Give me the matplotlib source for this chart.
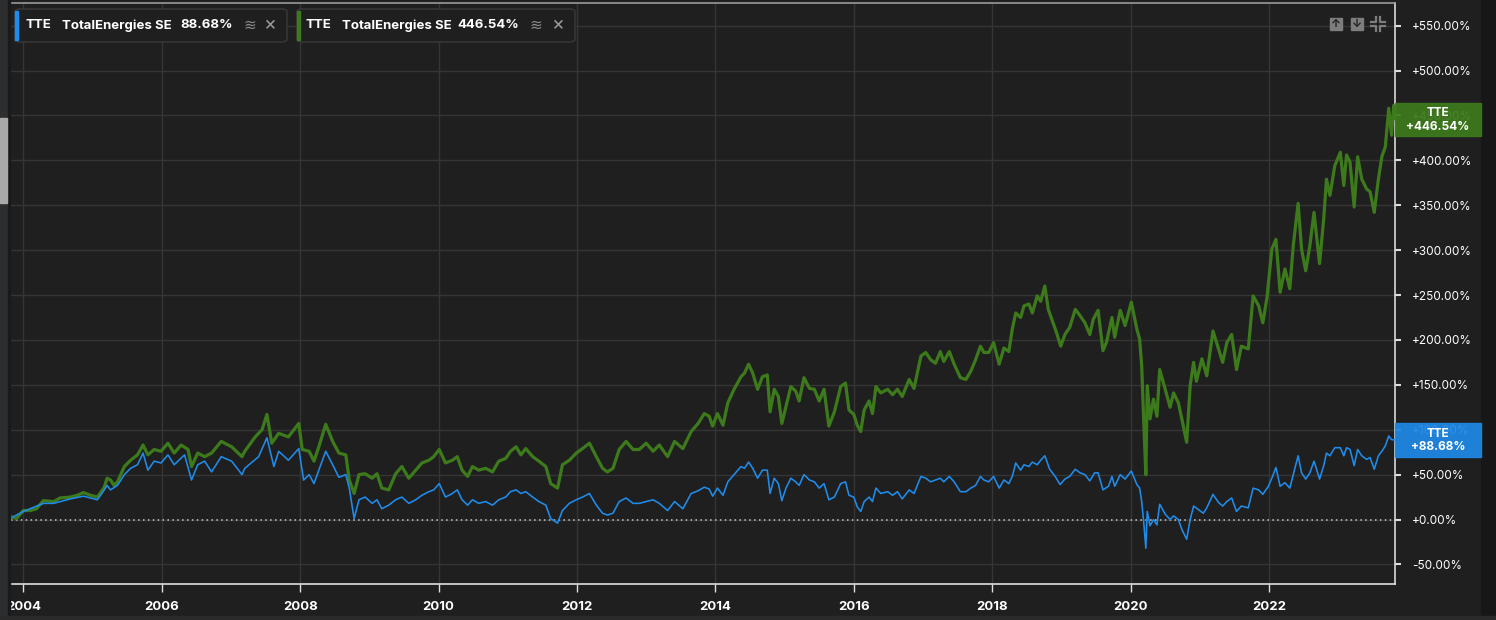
import numpy as np
import matplotlib.pyplot as plt
from matplotlib.patches import Rectangle, FancyBboxPatch
from matplotlib.lines import Line2D

# total return (green) - decimal year / percent
green_t = [2003.83, 2003.90, 2004.00, 2004.10, 2004.19, 2004.29, 2004.44, 2004.53, 2004.68, 2004.78,
           2004.87, 2004.97, 2005.07, 2005.17, 2005.21, 2005.26, 2005.31, 2005.36, 2005.46, 2005.55,
           2005.65, 2005.73, 2005.80, 2005.89, 2005.99, 2006.09, 2006.18, 2006.28, 2006.38, 2006.43,
           2006.52, 2006.62, 2006.72, 2006.86, 2007.01, 2007.16, 2007.20, 2007.35, 2007.45, 2007.52,
           2007.59, 2007.69, 2007.83, 2007.98, 2008.03, 2008.13, 2008.20, 2008.27, 2008.37, 2008.47,
           2008.56, 2008.66, 2008.71, 2008.78, 2008.85, 2008.94, 2009.04, 2009.11, 2009.18, 2009.28,
           2009.38, 2009.47, 2009.57, 2009.67, 2009.76, 2009.86, 2009.93, 2010.01, 2010.10, 2010.20,
           2010.27, 2010.34, 2010.42, 2010.49, 2010.58, 2010.68, 2010.78, 2010.87, 2010.97, 2011.04,
           2011.12, 2011.19, 2011.26, 2011.36, 2011.45, 2011.55, 2011.62, 2011.72, 2011.79, 2011.89,
           2011.99, 2012.08, 2012.18, 2012.28, 2012.37, 2012.44, 2012.52, 2012.61, 2012.71, 2012.81,
           2012.90, 2013.00, 2013.10, 2013.19, 2013.31, 2013.41, 2013.53, 2013.65, 2013.75, 2013.84,
           2013.91, 2013.96, 2014.03, 2014.11, 2014.18, 2014.27, 2014.37, 2014.42, 2014.48, 2014.54,
           2014.61, 2014.68, 2014.75, 2014.79, 2014.85, 2014.91, 2014.96, 2015.02, 2015.09, 2015.16,
           2015.21, 2015.28, 2015.36, 2015.43, 2015.50, 2015.57, 2015.64, 2015.72, 2015.81, 2015.88,
           2015.93, 2016.00, 2016.05, 2016.10, 2016.15, 2016.22, 2016.27, 2016.32, 2016.39, 2016.49,
           2016.56, 2016.63, 2016.70, 2016.80, 2016.87, 2016.97, 2017.04, 2017.11, 2017.18, 2017.25,
           2017.30, 2017.38, 2017.45, 2017.54, 2017.62, 2017.69, 2017.76, 2017.83, 2017.88, 2017.95,
           2018.02, 2018.10, 2018.17, 2018.24, 2018.29, 2018.34, 2018.41, 2018.46, 2018.53, 2018.58,
           2018.65, 2018.70, 2018.76, 2018.81, 2018.88, 2018.93, 2018.99, 2019.05, 2019.12, 2019.20,
           2019.27, 2019.34, 2019.41, 2019.46, 2019.53, 2019.60, 2019.65, 2019.73, 2019.77, 2019.85,
           2019.92, 2020.01, 2020.09, 2020.13, 2020.16, 2020.19, 2020.22, 2020.24, 2020.28, 2020.33,
           2020.38, 2020.42, 2020.50, 2020.57, 2020.62, 2020.69, 2020.74, 2020.81, 2020.86, 2020.91,
           2020.95, 2021.03, 2021.10, 2021.19, 2021.27, 2021.33, 2021.39, 2021.46, 2021.53, 2021.60,
           2021.70, 2021.77, 2021.85, 2021.91, 2021.97, 2022.04, 2022.10, 2022.16, 2022.23, 2022.30,
           2022.35, 2022.42, 2022.47, 2022.53, 2022.59, 2022.65, 2022.73, 2022.79, 2022.83, 2022.88,
           2022.95, 2023.03, 2023.08, 2023.12, 2023.17, 2023.23, 2023.28, 2023.34, 2023.41, 2023.46,
           2023.52, 2023.58, 2023.63, 2023.68, 2023.73, 2023.77, 2023.80, 2023.81]
green_v = [3, 1, 10, 10, 12, 21, 20, 24, 25, 27,
           30, 27, 25, 36, 46, 44, 38, 42, 59, 66,
           72, 83, 72, 78, 76, 85, 74, 83, 78, 59,
           74, 70, 74, 87, 81, 70, 76, 92, 100, 117,
           85, 96, 92, 107, 78, 76, 65, 81, 106, 87,
           74, 72, 44, 29, 50, 51, 46, 51, 35, 33,
           51, 59, 46, 55, 63, 66, 70, 78, 63, 66,
           70, 55, 48, 59, 55, 57, 53, 65, 68, 76,
           81, 72, 79, 70, 65, 59, 40, 35, 61, 66,
           74, 79, 85, 70, 57, 53, 57, 78, 87, 78,
           78, 85, 76, 83, 70, 87, 79, 98, 107, 118,
           115, 104, 118, 105, 130, 145, 159, 163, 173, 163,
           145, 159, 161, 120, 145, 137, 107, 126, 148, 143,
           132, 158, 146, 145, 132, 145, 104, 120, 148, 152,
           122, 117, 105, 98, 122, 132, 118, 148, 141, 145,
           139, 145, 137, 156, 146, 182, 186, 178, 174, 187,
           176, 187, 173, 158, 156, 165, 178, 193, 186, 186,
           197, 173, 191, 187, 212, 230, 225, 238, 240, 230,
           249, 243, 260, 234, 219, 208, 193, 206, 214, 234,
           227, 219, 206, 223, 233, 188, 197, 225, 203, 233,
           216, 242, 212, 201, 171, 108, 50, 149, 112, 134,
           115, 167, 145, 125, 141, 130, 112, 86, 149, 175,
           154, 179, 160, 210, 190, 175, 197, 206, 167, 193,
           190, 249, 238, 219, 247, 301, 312, 253, 279, 257,
           305, 352, 301, 277, 305, 342, 285, 335, 379, 361,
           394, 409, 372, 406, 398, 348, 404, 379, 368, 365,
           342, 379, 404, 415, 458, 428, 461, 446.54]

# price return (blue)
blue_t = [2003.83, 2004.00, 2004.29, 2004.44, 2004.68, 2004.87, 2005.07, 2005.17, 2005.21, 2005.26,
          2005.36, 2005.46, 2005.55, 2005.65, 2005.73, 2005.80, 2005.89, 2005.99, 2006.09, 2006.18,
          2006.33, 2006.43, 2006.52, 2006.62, 2006.72, 2006.86, 2007.01, 2007.16, 2007.20, 2007.40,
          2007.52, 2007.62, 2007.69, 2007.83, 2007.98, 2008.05, 2008.13, 2008.20, 2008.27, 2008.37,
          2008.47, 2008.56, 2008.66, 2008.71, 2008.78, 2008.85, 2008.94, 2009.04, 2009.11, 2009.18,
          2009.28, 2009.38, 2009.47, 2009.57, 2009.67, 2009.76, 2009.86, 2009.93, 2010.01, 2010.10,
          2010.20, 2010.27, 2010.34, 2010.42, 2010.49, 2010.58, 2010.68, 2010.78, 2010.87, 2010.97,
          2011.04, 2011.12, 2011.19, 2011.26, 2011.36, 2011.45, 2011.55, 2011.62, 2011.72, 2011.79,
          2011.89, 2011.99, 2012.08, 2012.18, 2012.28, 2012.37, 2012.44, 2012.52, 2012.61, 2012.71,
          2012.81, 2012.90, 2013.00, 2013.10, 2013.19, 2013.31, 2013.41, 2013.53, 2013.65, 2013.75,
          2013.84, 2013.91, 2013.96, 2014.03, 2014.11, 2014.18, 2014.27, 2014.37, 2014.42, 2014.48,
          2014.54, 2014.61, 2014.68, 2014.75, 2014.79, 2014.85, 2014.91, 2014.96, 2015.02, 2015.09,
          2015.16, 2015.21, 2015.28, 2015.36, 2015.43, 2015.50, 2015.57, 2015.64, 2015.72, 2015.81,
          2015.88, 2015.93, 2016.00, 2016.05, 2016.10, 2016.15, 2016.22, 2016.27, 2016.32, 2016.39,
          2016.49, 2016.56, 2016.63, 2016.70, 2016.80, 2016.87, 2016.97, 2017.04, 2017.11, 2017.18,
          2017.25, 2017.30, 2017.38, 2017.45, 2017.54, 2017.62, 2017.69, 2017.76, 2017.83, 2017.88,
          2017.95, 2018.02, 2018.10, 2018.17, 2018.24, 2018.29, 2018.34, 2018.41, 2018.46, 2018.53,
          2018.58, 2018.65, 2018.70, 2018.76, 2018.83, 2018.91, 2018.98, 2019.05, 2019.12, 2019.20,
          2019.27, 2019.34, 2019.41, 2019.48, 2019.53, 2019.60, 2019.68, 2019.73, 2019.77, 2019.85,
          2019.92, 2020.01, 2020.09, 2020.13, 2020.16, 2020.19, 2020.22, 2020.24, 2020.28, 2020.33,
          2020.38, 2020.42, 2020.50, 2020.57, 2020.62, 2020.69, 2020.74, 2020.81, 2020.86, 2020.91,
          2020.98, 2021.05, 2021.10, 2021.19, 2021.27, 2021.33, 2021.39, 2021.46, 2021.53, 2021.60,
          2021.70, 2021.77, 2021.85, 2021.91, 2021.99, 2022.04, 2022.10, 2022.16, 2022.23, 2022.30,
          2022.35, 2022.42, 2022.47, 2022.53, 2022.59, 2022.65, 2022.73, 2022.79, 2022.83, 2022.88,
          2022.95, 2023.03, 2023.08, 2023.12, 2023.17, 2023.23, 2023.28, 2023.34, 2023.41, 2023.46,
          2023.52, 2023.58, 2023.63, 2023.68, 2023.73, 2023.77, 2023.81]
blue_v = [2, 9, 18, 18, 23, 26, 22, 33, 38, 33,
          38, 50, 57, 61, 74, 55, 65, 63, 72, 61,
          72, 44, 61, 65, 53, 70, 65, 50, 57, 70,
          91, 59, 76, 66, 79, 44, 50, 40, 55, 76,
          61, 47, 50, 35, 1, 22, 25, 18, 22, 12,
          16, 22, 25, 18, 22, 27, 31, 33, 40, 25,
          29, 33, 22, 16, 22, 18, 20, 16, 22, 25,
          31, 33, 29, 31, 25, 20, 16, 1, -4, 10,
          18, 22, 25, 29, 16, 7, 5, 7, 20, 24,
          18, 18, 20, 22, 18, 10, 20, 12, 29, 32,
          36, 34, 26, 35, 27, 42, 50, 59, 57, 64,
          57, 46, 55, 55, 29, 46, 40, 21, 35, 46,
          42, 38, 50, 44, 42, 35, 40, 22, 25, 40,
          42, 27, 25, 14, 9, 20, 25, 20, 35, 29,
          31, 27, 31, 23, 33, 29, 48, 46, 42, 44,
          46, 42, 48, 42, 31, 31, 35, 38, 48, 44,
          42, 48, 35, 44, 40, 48, 63, 55, 61, 59,
          64, 61, 66, 71, 56, 48, 39, 45, 48, 56,
          52, 50, 43, 52, 52, 33, 37, 48, 37, 50,
          45, 54, 39, 35, 20, -4, -32, 9, -7, 0,
          -6, 17, 6, 0, 4, 0, -11, -22, 0, 15,
          11, 7, 13, 28, 19, 15, 20, 24, 9, 15,
          13, 35, 33, 28, 37, 46, 58, 37, 41, 35,
          50, 71, 52, 45, 52, 65, 45, 60, 74, 71,
          80, 80, 71, 80, 78, 60, 78, 71, 67, 69,
          56, 71, 76, 82, 93, 89, 88.68]

year_ticks = [2004, 2006, 2008, 2010, 2012, 2014, 2016, 2018, 2020, 2022]
pct_ticks = [-50, 0, 50, 100, 150, 200, 250, 300, 350, 400, 450, 500, 550]

name = "TotalEnergies SE"
ticker = "TTE"
blue_last = "88.68%"
green_last = "446.54%"

BG = '#1f1f1f'
GRID = '#353535'
BLUE = '#1f8cec'
GREEN = '#3d7a1c'

plt.rcParams['font.family'] = ['Inter', 'DejaVu Sans']

W, H = 1496, 620
fig = plt.figure(figsize=(W / 100, H / 100), dpi=100)
fig.patch.set_facecolor(BG)

def fx(px):
    return px / W

def fy(py):
    return 1 - py / H

ax = fig.add_axes([fx(11), fy(584), fx(1395) - fx(11), fy(3) - fy(584)])
ax.set_facecolor(BG)

ax.plot(green_t, green_v, color=GREEN, lw=2.3, zorder=3, solid_joinstyle='round')
ax.plot(blue_t, blue_v, color=BLUE, lw=1.15, zorder=4, solid_joinstyle='round')
ax.axhline(0, color='#c8c8c8', lw=1.1, ls=(0, (1, 2.2)), zorder=2)

ax.set_xlim(2003.822, 2023.82)
ax.set_ylim(-71.8, 575.2)

ax.set_xticks(year_ticks)
ax.set_xticklabels([str(y) for y in year_ticks], fontsize=9.5, fontweight='bold', color='white')
ax.set_yticks(pct_ticks)
ax.set_yticklabels([f"{v:+.2f}%" for v in pct_ticks], fontsize=8.5, color='white')
ax.yaxis.tick_right()
ax.tick_params(axis='x', length=6, width=1, color='#dddddd', pad=6)
ax.tick_params(axis='y', length=4, width=1.5, color='#dddddd', pad=8)
ax.grid(True, color=GRID, lw=1)
ax.set_axisbelow(True)

ax.spines['left'].set_visible(False)
ax.spines['top'].set_color('#9a9a9a')
ax.spines['right'].set_color('#d8d8d8')
ax.spines['bottom'].set_color('#e0e0e0')
for s in ['top', 'right', 'bottom']:
    ax.spines[s].set_linewidth(1.2)

# left strip with scrollbar, right dark strip
fig.add_artist(Rectangle((0, 0), fx(8), 1, transform=fig.transFigure, color='#2c2e30', zorder=5))
fig.add_artist(Rectangle((fx(8), 0), fx(2.5), 1, transform=fig.transFigure, color='#1a1a1a', zorder=5))
fig.add_artist(Rectangle((0, fy(203)), fx(7), fy(118) - fy(203), transform=fig.transFigure,
                         color='#a9a9a9', zorder=6))
fig.add_artist(Rectangle((fx(1481), 0), 1 - fx(1481), 1, transform=fig.transFigure,
                         color='#171717', zorder=5))
fig.add_artist(Rectangle((0, 0), 1, fy(616), transform=fig.transFigure, color='#2a2a2a', zorder=5))

# legend chips
def chip(x0, x1, color, value, xs):
    fig.add_artist(FancyBboxPatch((fx(x0), fy(42)), fx(x1 - x0), fy(9) - fy(42),
                                  boxstyle="round,pad=0,rounding_size=0.004",
                                  transform=fig.transFigure, fc=BG, ec='#3a3a3a', lw=1, zorder=7))
    fig.add_artist(Rectangle((fx(x0), fy(40)), fx(3), fy(11) - fy(40), transform=fig.transFigure,
                             color=color, zorder=8))
    yy = fy(25.5)
    fig.text(fx(xs[0]), yy, ticker, fontsize=9.5, fontweight='bold', color='white', va='center', zorder=9)
    fig.text(fx(xs[1]), yy, name, fontsize=9.5, fontweight='bold', color='white', va='center', zorder=9)
    fig.text(fx(xs[2]), yy, value, fontsize=9.5, fontweight='bold', color='white', va='center', zorder=9)
    fig.text(fx(xs[3]), yy, "≋", fontsize=11, color='#8a8a8a', va='center', ha='center', zorder=9)
    fig.text(fx(xs[4]), yy, "×", fontsize=14, color='#9a9a9a', va='center', ha='center', zorder=9)

chip(15, 287, BLUE, blue_last, [25, 62, 180, 250, 270])
chip(297, 575, GREEN, green_last, [305, 342, 457, 536, 558])

# end-value labels on the right axis
for (top, bot, col, txt) in [(103, 136, GREEN, "+" + green_last), (423, 457, '#1e88e5', "+" + blue_last)]:
    fig.add_artist(Rectangle((fx(1395), fy(bot)), fx(1481 - 1395), fy(top) - fy(bot),
                             transform=fig.transFigure, color=col, alpha=0.93, zorder=7))
    mid = (top + bot) / 2
    fig.text(fx(1438), fy(mid - 6), ticker, fontsize=8.5, fontweight='bold', color='white',
             ha='center', va='center', zorder=8)
    fig.text(fx(1438), fy(mid + 7), txt, fontsize=8.5, fontweight='bold', color='white',
             ha='center', va='center', zorder=8)

# toolbar icons at top right
for xc, arrow in [(1336, "↑"), (1357, "↓")]:
    fig.add_artist(Rectangle((fx(xc - 6), fy(30)), fx(12), fy(18) - fy(30), transform=fig.transFigure,
                             color='#7d7d7d', zorder=7))
    fig.text(fx(xc), fy(24), arrow, fontsize=8, fontweight='bold', color='#1f1f1f',
             ha='center', va='center', zorder=8)
# collapse icon: four corner brackets pointing inward
cx, cy = 1378, 24
for sx in (-1, 1):
    for sy in (-1, 1):
        xa, ya = cx + sx * 2, cy + sy * 2
        fig.add_artist(Line2D([fx(xa), fx(xa), fx(xa + sx * 5)], [fy(ya + sy * 5), fy(ya), fy(ya)],
                              transform=fig.transFigure, color='#7d7d7d', lw=1.6, zorder=8))

fig.savefig("out.png", dpi=100, facecolor=BG)
